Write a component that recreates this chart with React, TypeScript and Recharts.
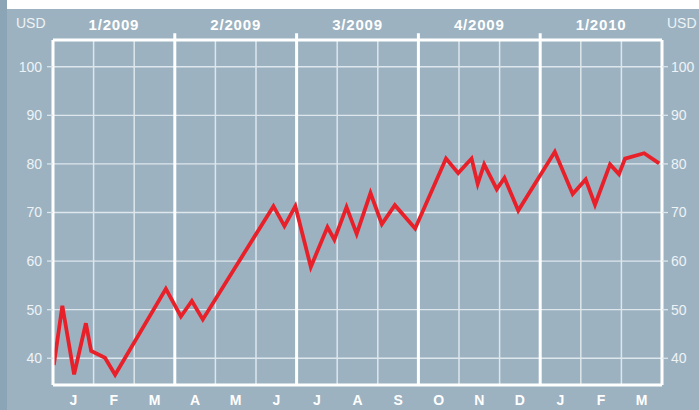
import React from 'react';
import { LineChart, Line, XAxis, YAxis, CartesianGrid, ReferenceLine } from 'recharts';

// time position in months since 1 Jan 2009
const monthPos = [0.02, 0.23, 0.52, 0.81, 0.94, 1.28, 1.53, 2.78, 3.15, 3.42, 3.69, 5.43, 5.7, 5.97, 6.35, 6.76, 6.93, 7.23, 7.48, 7.82, 8.1, 8.42, 8.92, 9.68, 9.98, 10.31, 10.46, 10.62, 10.93, 11.12, 11.46, 12.36, 12.8, 13.12, 13.35, 13.72, 13.94, 14.09, 14.56, 14.93];
const prices = [38.6, 50.8, 36.7, 47.2, 41.5, 40.1, 36.6, 54.3, 48.6, 51.8, 48.0, 71.3, 67.2, 71.3, 58.8, 67.0, 64.4, 71.1, 65.6, 74.0, 67.6, 71.5, 66.7, 81.1, 78.1, 81.1, 75.9, 79.9, 74.8, 77.1, 70.4, 82.5, 73.8, 76.8, 71.6, 79.9, 77.9, 81.1, 82.2, 80.1];

const monthLabels = ['J', 'F', 'M', 'A', 'M', 'J', 'J', 'A', 'S', 'O', 'N', 'D', 'J', 'F', 'M'];
const quarterLabels = ['1/2009', '2/2009', '3/2009', '4/2009', '1/2010'];
const yTicks = [40, 50, 60, 70, 80, 90, 100];

const data = monthPos.map((m, i) => ({ m, v: prices[i] }));
const monthCenters = monthLabels.map((_, i) => i + 0.5);
const quarterCenters = quarterLabels.map((_, i) => i * 3 + 1.5);
const monthBounds = monthLabels.map((_, i) => i).filter((i) => i > 0 && i % 3 !== 0);
const quarterBounds = quarterLabels.map((_, i) => i * 3).filter((i) => i > 0);

const FONT = '"Liberation Sans", Arial, Helvetica, sans-serif';
const BG = '#9cb2c1';
const TXT = '#eef3f6';
const GRID = '#dde6ec';

export default function App() {
  return (
    <div style={{ position: 'absolute', left: 0, top: 0, width: 699, height: 410, background: BG, overflow: 'hidden', fontFamily: FONT }}>
      <div style={{ position: 'absolute', left: 0, top: 0, width: 7, height: 410, background: '#8ba5b7' }} />
      <div style={{ position: 'absolute', left: 7, top: 0, width: 692, height: 9, background: '#ffffff' }} />
      <span style={{ position: 'absolute', left: 16, top: 15, fontSize: 14, color: TXT, lineHeight: '16px' }}>USD</span>
      <span style={{ position: 'absolute', left: 667, top: 15, fontSize: 14, color: TXT, lineHeight: '16px' }}>USD</span>
      <div style={{ position: 'absolute', left: 0, top: 0 }}>
        <LineChart width={699} height={410} data={data} margin={{ top: 10, right: 0, bottom: 0, left: 13 }}>
          <CartesianGrid yAxisId="left" vertical={false} stroke={GRID} strokeWidth={1.3} />
          <XAxis
            dataKey="m"
            type="number"
            domain={[0, 15]}
            ticks={monthCenters}
            interval={0}
            tickFormatter={(v: number) => monthLabels[Math.floor(v)]}
            axisLine={{ stroke: '#ffffff', strokeWidth: 3 }}
            tickLine={false}
            tickSize={0}
            tickMargin={10}
            height={25}
            tick={{ fill: '#ffffff', fontSize: 14, fontWeight: 'bold', fontFamily: FONT }}
            allowDataOverflow
          />
          <XAxis
            xAxisId="top"
            orientation="top"
            dataKey="m"
            type="number"
            domain={[0, 15]}
            ticks={quarterCenters}
            interval={0}
            tickFormatter={(v: number) => quarterLabels[Math.floor(v / 3)]}
            axisLine={{ stroke: '#ffffff', strokeWidth: 3 }}
            tickLine={false}
            tickSize={0}
            tickMargin={10}
            height={30}
            tick={{ fill: '#ffffff', fontSize: 15, fontWeight: 'bold', fontFamily: FONT, letterSpacing: 0.8 }}
          />
          <YAxis
            yAxisId="left"
            type="number"
            domain={[34.5, 105.5]}
            ticks={yTicks}
            interval={0}
            allowDataOverflow
            width={40}
            axisLine={{ stroke: '#ffffff', strokeWidth: 3 }}
            tickLine={{ stroke: GRID, strokeWidth: 1.3 }}
            tickSize={6}
            tickMargin={5}
            tick={{ fill: TXT, fontSize: 14, fontFamily: FONT }}
          />
          <YAxis
            yAxisId="right"
            orientation="right"
            type="number"
            domain={[34.5, 105.5]}
            ticks={yTicks}
            interval={0}
            allowDataOverflow
            width={37}
            axisLine={{ stroke: '#ffffff', strokeWidth: 3 }}
            tickLine={{ stroke: GRID, strokeWidth: 1.3 }}
            tickSize={6}
            tickMargin={3}
            tick={{ fill: TXT, fontSize: 14, fontFamily: FONT, textAnchor: 'start' }}
          />
          {monthBounds.map((b) => (
            <ReferenceLine key={'m' + b} yAxisId="left" x={b} stroke={GRID} strokeWidth={1.5} />
          ))}
          {quarterBounds.map((b) => (
            <ReferenceLine
              key={'q' + b}
              yAxisId="left"
              ifOverflow="visible"
              segment={[{ x: b, y: 34.5 }, { x: b, y: 106.9 }]}
              stroke="#ffffff"
              strokeWidth={3}
            />
          ))}
          <Line
            yAxisId="left"
            type="linear"
            dataKey="v"
            stroke="#e8202a"
            strokeWidth={3.8}
            dot={false}
            isAnimationActive={false}
            strokeLinejoin="miter"
          />
        </LineChart>
      </div>
    </div>
  );
}
